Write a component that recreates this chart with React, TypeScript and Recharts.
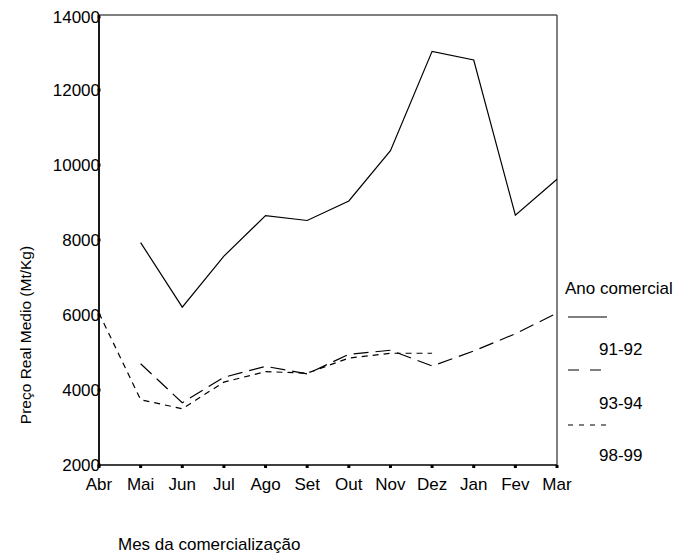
import React from 'react';
import { LineChart, Line, XAxis, YAxis, ReferenceLine, Customized } from 'recharts';

const months = ['Abr', 'Mai', 'Jun', 'Jul', 'Ago', 'Set', 'Out', 'Nov', 'Dez', 'Jan', 'Fev', 'Mar'];
const s9192: (number | null)[] = [null, 7930, 6210, 7570, 8650, 8520, 9040, 10380, 13030, 12800, 8660, 9620];
const s9394: (number | null)[] = [null, 4700, 3660, 4340, 4630, 4430, 4950, 5060, 4640, 5040, 5500, 6050];
const s9899: (number | null)[] = [6050, 3740, 3500, 4210, 4490, 4450, 4850, 4980, 4980, null, null, null];
const yTicks = [2000, 4000, 6000, 8000, 10000, 12000, 14000];
const seriesNames = ['91-92', '93-94', '98-99'];
const legendTitle = 'Ano comercial';
const xTitle = 'Mes da comercialização';
const yTitle = 'Preço Real Medio (Mt/Kg)';

const data = months.map((m, i) => ({ month: m, a: s9192[i], b: s9394[i], c: s9899[i] }));

const FONT = '"Liberation Sans", Arial, sans-serif';

const YTick = (props: any) => {
  const { x, y, payload } = props;
  const ax = x + 8;
  return (
    <g>
      <rect x={ax - 1.5} y={y - 1.5} width={3} height={3} fill="#000" />
      <text x={ax + 1} y={y} textAnchor="end" dominantBaseline="central" fontSize={17} fontFamily={FONT} fill="#000">
        {payload.value}
      </text>
    </g>
  );
};

const XTick = (props: any) => {
  const { x, y, payload } = props;
  const ay = y - 8;
  return (
    <g>
      <rect x={x - 1.5} y={ay} width={3} height={3} fill="#000" />
      <text x={x} y={ay + 25} textAnchor="middle" fontSize={17} fontFamily={FONT} fill="#000">
        {payload.value}
      </text>
    </g>
  );
};

const Extras = () => (
  <g fontFamily={FONT} fill="#000">
    <text x={17} y={327} transform="rotate(-90 17 327)" textAnchor="middle" dominantBaseline="central" fontSize={15.5}>
      {yTitle}
    </text>
    <text x={110} y={542} fontSize={17}>{xTitle}</text>
    <text x={557} y={280} fontSize={17} dominantBaseline="central">{legendTitle}</text>
    <line x1={560} x2={599} y1={309} y2={309} stroke="#000" strokeWidth={1.2} />
    <text x={591} y={341} fontSize={17} dominantBaseline="central">{seriesNames[0]}</text>
    <line x1={560} x2={599} y1={362} y2={362} stroke="#000" strokeWidth={1.2} strokeDasharray="11 11" />
    <text x={591} y={395} fontSize={17} dominantBaseline="central">{seriesNames[1]}</text>
    <line x1={560} x2={599} y1={417} y2={417} stroke="#000" strokeWidth={1.2} strokeDasharray="5 6" />
    <text x={591} y={447} fontSize={17} dominantBaseline="central">{seriesNames[2]}</text>
  </g>
);

export default function App() {
  return (
    <LineChart width={684} height={551} data={data} margin={{ top: 7, left: 31, right: 135, bottom: 64 }}>
      <XAxis
        dataKey="month"
        scale="point"
        padding={{ left: 0, right: 0 }}
        axisLine={{ stroke: '#000', strokeWidth: 1.5 }}
        tickLine={false}
        tick={<XTick />}
        height={30}
        interval={0}
      />
      <YAxis
        domain={[2000, 14000]}
        ticks={yTicks}
        width={60}
        axisLine={{ stroke: '#000', strokeWidth: 1.8 }}
        tickLine={false}
        tick={<YTick />}
        allowDataOverflow
      />
      <ReferenceLine y={14000} stroke="#555" strokeWidth={1.5} />
      <ReferenceLine x="Mar" stroke="#555" strokeWidth={1.5} />
      <Line dataKey="a" stroke="#000" strokeWidth={1.2} dot={false} isAnimationActive={false} connectNulls={false} />
      <Line dataKey="b" stroke="#000" strokeWidth={1.2} strokeDasharray="15 7" dot={false} isAnimationActive={false} connectNulls={false} />
      <Line dataKey="c" stroke="#000" strokeWidth={1.2} strokeDasharray="6 5" dot={false} isAnimationActive={false} connectNulls={false} />
      <Customized component={Extras} />
    </LineChart>
  );
}
